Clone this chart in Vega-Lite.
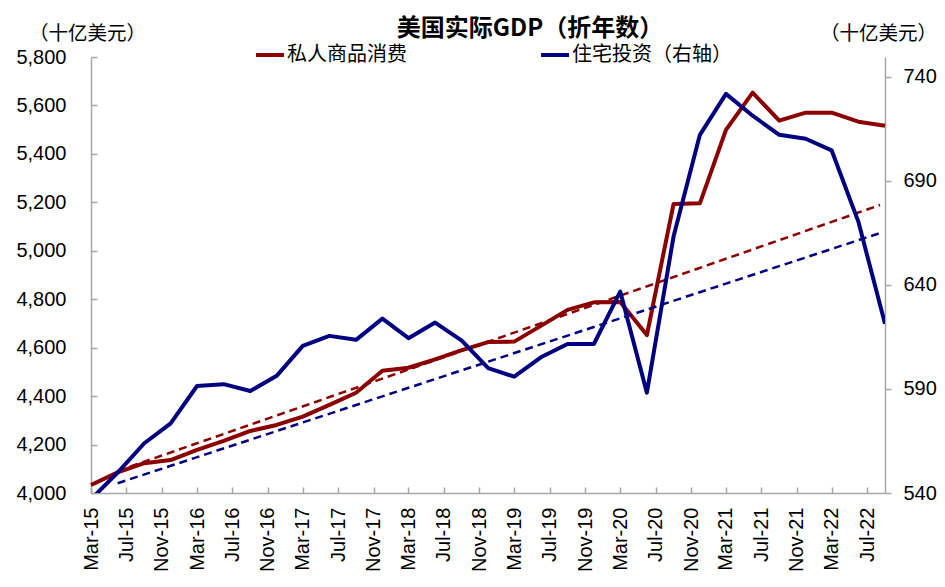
{
  "$schema": "https://vega.github.io/schema/vega-lite/v6.json",
  "width": 794,
  "height": 436,
  "autosize": {"type": "none"},
  "padding": {"left": 91, "top": 57, "right": 60, "bottom": 94},
  "background": "white",
  "title": {
    "text": "美国实际GDP（折年数）",
    "font": "Noto Sans CJK SC",
    "fontSize": 24,
    "fontWeight": "bold",
    "color": "black",
    "anchor": "middle",
    "frame": "group",
    "baseline": "middle",
    "dx": 42,
    "dy": 34
  },
  "datasets": {
    "goods": [
      {"date": "2015-03-01", "value": 4033},
      {"date": "2015-06-01", "value": 4085},
      {"date": "2015-09-01", "value": 4123},
      {"date": "2015-12-01", "value": 4136},
      {"date": "2016-03-01", "value": 4178},
      {"date": "2016-06-01", "value": 4215},
      {"date": "2016-09-01", "value": 4256},
      {"date": "2016-12-01", "value": 4281},
      {"date": "2017-03-01", "value": 4315},
      {"date": "2017-06-01", "value": 4364},
      {"date": "2017-09-01", "value": 4414},
      {"date": "2017-12-01", "value": 4505},
      {"date": "2018-03-01", "value": 4517},
      {"date": "2018-06-01", "value": 4552},
      {"date": "2018-09-01", "value": 4590},
      {"date": "2018-12-01", "value": 4623},
      {"date": "2019-03-01", "value": 4625},
      {"date": "2019-06-01", "value": 4690},
      {"date": "2019-09-01", "value": 4756},
      {"date": "2019-12-01", "value": 4787},
      {"date": "2020-03-01", "value": 4789},
      {"date": "2020-06-01", "value": 4652},
      {"date": "2020-09-01", "value": 5193},
      {"date": "2020-12-01", "value": 5196},
      {"date": "2021-03-01", "value": 5499},
      {"date": "2021-06-01", "value": 5653},
      {"date": "2021-09-01", "value": 5537},
      {"date": "2021-12-01", "value": 5570},
      {"date": "2022-03-01", "value": 5570},
      {"date": "2022-06-01", "value": 5533},
      {"date": "2022-09-01", "value": 5516}
    ],
    "goods_trend": [
      {"date": "2015-06-01", "value": 4091},
      {"date": "2022-08-15", "value": 5189}
    ],
    "housing": [
      {"date": "2015-03-01", "value": 537},
      {"date": "2015-06-01", "value": 549.8},
      {"date": "2015-09-01", "value": 563.9},
      {"date": "2015-12-01", "value": 573.5},
      {"date": "2016-03-01", "value": 591.4},
      {"date": "2016-06-01", "value": 592.3},
      {"date": "2016-09-01", "value": 589.0},
      {"date": "2016-12-01", "value": 596.3},
      {"date": "2017-03-01", "value": 610.7},
      {"date": "2017-06-01", "value": 615.5},
      {"date": "2017-09-01", "value": 613.6},
      {"date": "2017-12-01", "value": 623.8},
      {"date": "2018-03-01", "value": 614.4},
      {"date": "2018-06-01", "value": 621.9},
      {"date": "2018-09-01", "value": 613.2},
      {"date": "2018-12-01", "value": 600.0},
      {"date": "2019-03-01", "value": 595.9},
      {"date": "2019-06-01", "value": 605.2},
      {"date": "2019-09-01", "value": 611.6},
      {"date": "2019-12-01", "value": 611.6},
      {"date": "2020-03-01", "value": 636.8},
      {"date": "2020-06-01", "value": 588.2},
      {"date": "2020-09-01", "value": 663.2},
      {"date": "2020-12-01", "value": 712.1},
      {"date": "2021-03-01", "value": 731.8},
      {"date": "2021-06-01", "value": 721.3},
      {"date": "2021-09-01", "value": 712.1},
      {"date": "2021-12-01", "value": 710.2},
      {"date": "2022-03-01", "value": 704.6},
      {"date": "2022-06-01", "value": 670.4},
      {"date": "2022-09-01", "value": 621.3}
    ],
    "housing_trend": [
      {"date": "2015-06-01", "value": 544.7},
      {"date": "2022-08-15", "value": 664.9}
    ]
  },
  "encoding": {
    "x": {
      "field": "date",
      "type": "temporal",
      "scale": {
        "type": "utc",
        "domain": [
          {"year": 2015, "month": 3, "date": 1, "utc": true},
          {"year": 2022, "month": 9, "date": 1, "utc": true}
        ]
      },
      "axis": {
        "title": null,
        "values": [
          {"year": 2015, "month": 3, "date": 1, "utc": true},
          {"year": 2015, "month": 7, "date": 1, "utc": true},
          {"year": 2015, "month": 11, "date": 1, "utc": true},
          {"year": 2016, "month": 3, "date": 1, "utc": true},
          {"year": 2016, "month": 7, "date": 1, "utc": true},
          {"year": 2016, "month": 11, "date": 1, "utc": true},
          {"year": 2017, "month": 3, "date": 1, "utc": true},
          {"year": 2017, "month": 7, "date": 1, "utc": true},
          {"year": 2017, "month": 11, "date": 1, "utc": true},
          {"year": 2018, "month": 3, "date": 1, "utc": true},
          {"year": 2018, "month": 7, "date": 1, "utc": true},
          {"year": 2018, "month": 11, "date": 1, "utc": true},
          {"year": 2019, "month": 3, "date": 1, "utc": true},
          {"year": 2019, "month": 7, "date": 1, "utc": true},
          {"year": 2019, "month": 11, "date": 1, "utc": true},
          {"year": 2020, "month": 3, "date": 1, "utc": true},
          {"year": 2020, "month": 7, "date": 1, "utc": true},
          {"year": 2020, "month": 11, "date": 1, "utc": true},
          {"year": 2021, "month": 3, "date": 1, "utc": true},
          {"year": 2021, "month": 7, "date": 1, "utc": true},
          {"year": 2021, "month": 11, "date": 1, "utc": true},
          {"year": 2022, "month": 3, "date": 1, "utc": true},
          {"year": 2022, "month": 7, "date": 1, "utc": true}
        ],
        "format": "%b-%y",
        "labelAngle": 270,
        "labelAlign": "right",
        "labelBaseline": "middle",
        "labelFont": "Liberation Sans",
        "labelFontSize": 20,
        "labelColor": "black",
        "labelOverlap": false,
        "labelFlush": false,
        "tickSize": -6,
        "labelPadding": 20
      }
    }
  },
  "layer": [
    {
      "layer": [
        {
          "data": {"name": "goods"},
          "mark": {"type": "line", "strokeWidth": 4, "strokeJoin": "round"},
          "encoding": {
            "y": {
              "field": "value",
              "type": "quantitative",
              "scale": {"domain": [4000, 5800], "nice": false, "zero": false},
              "axis": {
                "orient": "left",
                "values": [4000, 4200, 4400, 4600, 4800, 5000, 5200, 5400, 5600, 5800],
                "format": ",.0f",
                "labelFont": "Liberation Sans",
                "labelFontSize": 20,
                "labelColor": "black",
                "tickSize": -6,
                "labelPadding": 31,
                "title": "（十亿美元）",
                "titleAngle": 0,
                "titleX": -4,
                "titleY": -24,
                "titleAlign": "center",
                "titleBaseline": "middle",
                "titleFont": "Noto Sans CJK SC",
                "titleFontSize": 19.5,
                "titleFontWeight": "normal",
                "titleColor": "black"
              }
            },
            "color": {
              "datum": "私人商品消费",
              "type": "nominal",
              "scale": {"domain": ["私人商品消费", "住宅投资（右轴）"], "range": ["#8B0000", "#000080"]},
              "legend": {
                "orient": "none",
                "legendX": 163,
                "legendY": -18,
                "direction": "horizontal",
                "title": null,
                "symbolType": "stroke",
                "symbolSize": 784,
                "symbolStrokeWidth": 4,
                "labelFont": "Noto Sans CJK SC",
                "labelFontSize": 20,
                "labelColor": "black",
                "labelOffset": 1,
                "columnPadding": 126
              }
            }
          }
        },
        {
          "data": {"name": "goods_trend"},
          "mark": {"type": "line", "strokeWidth": 2.5, "strokeDash": [8, 5], "color": "#8B0000"},
          "encoding": {
            "y": {"field": "value", "type": "quantitative"}
          }
        }
      ]
    },
    {
      "layer": [
        {
          "data": {"name": "housing"},
          "mark": {"type": "line", "strokeWidth": 4, "strokeJoin": "round", "clip": true},
          "encoding": {
            "y": {
              "field": "value",
              "type": "quantitative",
              "scale": {"domain": [540, 749.5], "nice": false, "zero": false},
              "axis": {
                "orient": "right",
                "values": [540, 590, 640, 690, 740],
                "labelFont": "Liberation Sans",
                "labelFontSize": 20,
                "labelColor": "black",
                "tickSize": 6,
                "labelPadding": 12,
                "title": "（十亿美元）",
                "titleAngle": 0,
                "titleX": -7,
                "titleY": -24,
                "titleAlign": "center",
                "titleBaseline": "middle",
                "titleFont": "Noto Sans CJK SC",
                "titleFontSize": 19.5,
                "titleFontWeight": "normal",
                "titleColor": "black"
              }
            },
            "color": {
              "datum": "住宅投资（右轴）",
              "type": "nominal",
              "scale": {"domain": ["私人商品消费", "住宅投资（右轴）"], "range": ["#8B0000", "#000080"]}
            }
          }
        },
        {
          "data": {"name": "housing_trend"},
          "mark": {"type": "line", "strokeWidth": 2.5, "strokeDash": [8, 5], "color": "#000080"},
          "encoding": {
            "y": {"field": "value", "type": "quantitative"}
          }
        }
      ]
    }
  ],
  "resolve": {"scale": {"y": "independent"}},
  "config": {
    "view": {"stroke": null},
    "axis": {"grid": false, "domainColor": "#A6A6A6", "tickColor": "#A6A6A6", "domainWidth": 1.5, "tickWidth": 1.5}
  }
}
